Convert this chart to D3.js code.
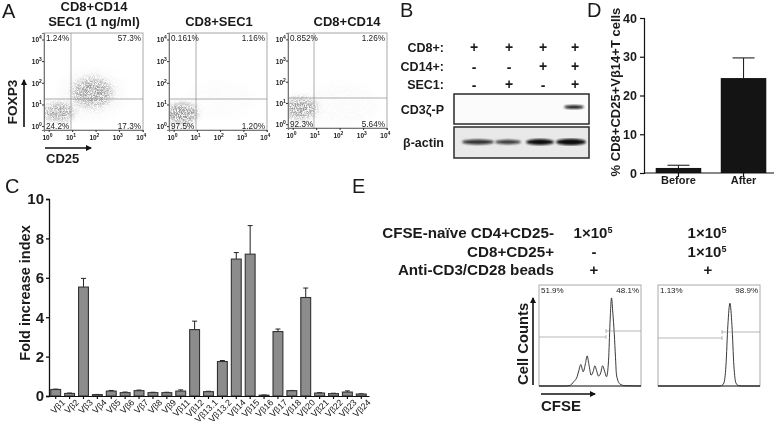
<!DOCTYPE html>
<html><head><meta charset="utf-8">
<script src="https://cdn.jsdelivr.net/npm/d3@7"></script>
<style>
html,body{margin:0;padding:0;background:#fff}
svg{display:block;filter:blur(.35px)}
text{font-family:"Liberation Sans",Arial,sans-serif;fill:#1a1a1a}
</style></head><body>
<svg id="c" width="777" height="427"></svg>
<script>
// ---------- data ----------
const vbLabels = ["Vβ1","Vβ2","Vβ3","Vβ4","Vβ5","Vβ6","Vβ7","Vβ8","Vβ9","Vβ11","Vβ12","Vβ13.1","Vβ13.2","Vβ14","Vβ15","Vβ16","Vβ17","Vβ18","Vβ20","Vβ21","Vβ22","Vβ23","Vβ24"];
const vbValues = [0.33,0.13,5.53,0.07,0.25,0.17,0.27,0.17,0.17,0.25,3.37,0.22,1.75,6.95,7.2,0.04,3.27,0.27,5.0,0.15,0.12,0.2,0.1];
const vbErrTop = [0.35,0.15,5.97,0.08,0.28,0.2,0.3,0.19,0.19,0.31,3.8,0.24,1.8,7.28,8.65,0.05,3.4,0.28,5.48,0.17,0.14,0.26,0.11];
const dCats = ["Before","After"];
const dValues = [1.3,24.5];
const dErrTop = [2.0,29.7];
const dTicks = [0,10,20,30,40];
const cTicks = [0,2,4,6,8,10];
const logTicks = [0,1,2,3,4];
const flowTitles = [["CD8+CD14","SEC1 (1 ng/ml)"],["CD8+SEC1"],["CD8+CD14"]];
const flowPercents = [["1.24%","57.3%","24.2%","17.3%"],["0.161%","1.16%","97.5%","1.20%"],["0.852%","1.26%","92.3%","5.64%"]];
// density clouds: log10 x, log10 y, radius x, radius y, strength
const flowClouds = [
 [[1.85,1.5,1.4,1.15,.07],[1.85,1.55,.85,.68,.7],[1.9,1.55,.5,.42,.5],[.4,.65,.72,.42,.75],[.4,.65,.4,.26,.35]],
 [[2,1.2,1.5,.8,.035],[.35,.58,.68,.46,.95],[.35,.58,.42,.3,.55]],
 [[2,.9,1.6,1,.05],[.33,.75,.7,.5,.8],[.33,.75,.38,.28,.5]]
];
const histPercents = [["51.9%","48.1%"],["1.13%","98.9%"]];
const hist1 = [[0,0],[26,0],[30.2,.5],[34.1,4.3],[37.4,9.2],[39,15],[41,21.3],[43.3,14.1],[45.5,22],[47.2,29.8],[49,21],[51.1,10.8],[53,14],[54.8,20],[56.5,15],[58.4,9.8],[60.5,13],[62.3,20],[64.5,14],[66.2,9.2],[68.2,25.6],[69.6,62],[71.1,87.2],[72.4,72],[73.8,51.8],[75,28],[76,10.8],[79.3,2],[84.3,.3],[100,0]];
const hist2 = [[0,0],[60,0],[62.3,.5],[64.6,3],[66.6,20],[68.5,60],[70.5,82],[72.5,60],[74.4,20],[76.4,3],[78.7,.5],[82,0],[100,0]];
const blotCols = [474,509,543,575];
const bRows = [["CD8+:","+","+","+","+"],["CD14+:","-","-","+","+"],["SEC1:","-","+","-","+"]];
const eRows = [["CFSE-naïve CD4+CD25-","1×10","1×10"],["CD8+CD25+","-","1×10"],["Anti-CD3/CD28 beads","+","+"]];
// band centre, half width, half height, darkness
const cd3Bands = [[574,10,1.8,1]];
const actinBands = [[478,16,2.4,.85],[508,13,2.2,.8],[540,14,3,1],[571,15,3.2,1]];

// ---------- helpers ----------
const svg = d3.select("#c");
const defs = svg.append("defs");
function T(g,x,y,s,o={}){
  const t=g.append("text").attr("x",x).attr("y",y).text(s)
    .attr("font-size",o.size||12).attr("font-weight",o.w||"bold")
    .attr("text-anchor",o.a||"start");
  if(o.rot!==undefined)t.attr("transform",`rotate(${o.rot},${x},${y})`);
  if(o.fill)t.style("fill",o.fill);
  return t;
}
const mk=defs.append("marker").attr("id","arr").attr("markerWidth",7).attr("markerHeight",7)
  .attr("refX",5).attr("refY",3).attr("orient","auto").attr("markerUnits","userSpaceOnUse");
mk.append("path").attr("d","M0,0L6,3L0,6Z").attr("fill","#111");
const gr=defs.append("filter").attr("id","grain").attr("x",0).attr("y",0).attr("width",1).attr("height",1);
gr.append("feGaussianBlur").attr("in","SourceGraphic").attr("stdDeviation",3).attr("result","b");
gr.append("feTurbulence").attr("type","fractalNoise").attr("baseFrequency",1.6).attr("numOctaves",2).attr("seed",4).attr("result","n");
gr.append("feColorMatrix").attr("in","n").attr("type","matrix")
  .attr("values","0 0 0 0 .25  0 0 0 0 .25  0 0 0 0 .25  2.8 0 0 0 -.85").attr("result","g");
gr.append("feComposite").attr("in","g").attr("in2","b").attr("operator","in");
const bb=defs.append("filter").attr("id","band");
bb.append("feGaussianBlur").attr("stdDeviation",.9);

// ---------- panel letters ----------
[["A",2,18],["B",400,17],["D",587,17],["C",5,193],["E",352,193]].forEach(d=>T(svg,d[1],d[2],d[0],{size:20,w:"normal"}));

// ---------- panel A ----------
const flowBoxes=[{x0:44,x1:143,y0:33,y1:130,gx:71,gy:99},{x0:169,x1:267,y0:33,y1:130,gx:196,gy:99},{x0:288,x1:387,y0:33,y1:128,gx:314,gy:98}];
const titleX=[94,219,347], titleY=[[11,26],[26],[26]];
flowBoxes.forEach((b,i)=>{
  const g=svg.append("g");
  flowTitles[i].forEach((t,k)=>T(g,titleX[i],titleY[i][k],t,{size:13,a:"middle"}));
  const x=d3.scaleLinear().domain([-.2,4.02]).range([b.x0,b.x1]);
  const y=d3.scaleLinear().domain([-.18,4.3]).range([b.y1,b.y0]);
  const id="cl"+i;
  defs.append("clipPath").attr("id",id).append("rect").attr("x",b.x0).attr("y",b.y0).attr("width",b.x1-b.x0).attr("height",b.y1-b.y0);
  const cg=g.append("g").attr("clip-path",`url(#${id})`).append("g").attr("filter","url(#grain)");
  cg.append("rect").attr("x",b.x0).attr("y",b.y0).attr("width",b.x1-b.x0).attr("height",b.y1-b.y0).attr("fill","#000").attr("opacity",.001);
  cg.selectAll("ellipse").data(flowClouds[i]).join("ellipse")
    .attr("cx",d=>x(d[0])).attr("cy",d=>y(d[1]))
    .attr("rx",d=>x(d[2])-x(0)).attr("ry",d=>y(0)-y(d[3]))
    .attr("fill","#000").attr("opacity",d=>d[4]);
  g.append("rect").attr("x",b.x0).attr("y",b.y0).attr("width",b.x1-b.x0).attr("height",b.y1-b.y0)
    .attr("fill","none").attr("stroke","#a8a8a8").attr("stroke-width",1);
  g.append("line").attr("x1",b.gx).attr("x2",b.gx).attr("y1",b.y0).attr("y2",b.y1).attr("stroke","#8a8a8a").attr("stroke-width",.7);
  g.append("line").attr("x1",b.x0).attr("x2",b.x1).attr("y1",b.gy).attr("y2",b.gy).attr("stroke","#8a8a8a").attr("stroke-width",.7);
  const ax=g.append("g").attr("transform",`translate(0,${b.y1})`).call(d3.axisBottom(x).tickValues(logTicks).tickSize(2).tickFormat(""));
  const ay=g.append("g").attr("transform",`translate(${b.x0},0)`).call(d3.axisLeft(y).tickValues(logTicks).tickSize(2).tickFormat(""));
  [ax,ay].forEach(a=>{a.selectAll("path").attr("stroke","#777");a.selectAll("line").attr("stroke","#333");});
  logTicks.forEach(t=>{
    const lx=x(t), ly=y(t);
    T(g,lx+1,b.y1+10,"10",{size:6.5,a:"end"}); T(g,lx+1,b.y1+7,String(t),{size:5});
    T(g,b.x0-5,ly+3,"10",{size:6.5,a:"end"}); T(g,b.x0-5,ly,String(t),{size:5});
  });
  const p=flowPercents[i], o={size:8.2,w:"normal"};
  T(g,b.x0+2,b.y0+8,p[0],o);
  T(g,b.x1-2,b.y0+8,p[1],{...o,a:"end"});
  T(g,b.x0+2,b.y1-1,p[2],o);
  T(g,b.x1-2,b.y1-1,p[3],{...o,a:"end"});
});
T(svg,17,102,"FOXP3",{size:13.7,a:"middle",rot:-90});
svg.append("line").attr("x1",24).attr("x2",24).attr("y1",127).attr("y2",80).attr("stroke","#111").attr("stroke-width",1.6).attr("marker-end","url(#arr)");
svg.append("line").attr("x1",45).attr("x2",91).attr("y1",148).attr("y2",148).attr("stroke","#111").attr("stroke-width",1.6).attr("marker-end","url(#arr)");
T(svg,46,163,"CD25",{size:13});

// ---------- panel B ----------
const gB=svg.append("g");
bRows.forEach((r,i)=>{
  const yy=[52,71,89][i];
  T(gB,444,yy,r[0],{size:12.5,a:"end"});
  blotCols.forEach((c,k)=>T(gB,c,yy+(r[k+1]==="-"?1:0),r[k+1],{size:14,a:"middle"}));
});
const blots=[{y0:94,y1:124,bands:cd3Bands,cy:107,label:"CD3ζ-P",ly:114},{y0:127,y1:158,bands:actinBands,cy:142,label:"β-actin",ly:147}];
blots.forEach(b=>{
  gB.append("rect").attr("x",454).attr("y",b.y0).attr("width",135).attr("height",b.y1-b.y0)
    .attr("fill",b.y0<100?"#fbfbfb":"#e9e9e9").attr("stroke","#2a2a2a").attr("stroke-width",1.5);
  gB.append("g").attr("filter","url(#band)").selectAll("ellipse").data(b.bands).join("ellipse")
    .attr("cx",d=>d[0]).attr("cy",b.cy).attr("rx",d=>d[1]).attr("ry",d=>d[2])
    .attr("fill","#111").attr("opacity",d=>d[3]);
  T(gB,444,b.ly,b.label,{size:12.5,a:"end"});
});

// ---------- panel C ----------
const gC=svg.append("g");
const cx=d3.scaleBand().domain(vbLabels).range([48,369]).paddingInner(.29).paddingOuter(.2);
const cy=d3.scaleLinear().domain([0,10]).range([396,199]);
gC.selectAll("line.err").data(vbLabels).join("line").attr("class","err")
  .attr("x1",d=>cx(d)+cx.bandwidth()/2).attr("x2",d=>cx(d)+cx.bandwidth()/2)
  .attr("y1",(d,i)=>cy(vbValues[i])).attr("y2",(d,i)=>cy(vbErrTop[i])).attr("stroke","#222").attr("stroke-width",1);
gC.selectAll("line.cap").data(vbLabels).join("line").attr("class","cap")
  .attr("x1",d=>cx(d)+cx.bandwidth()/2-2.5).attr("x2",d=>cx(d)+cx.bandwidth()/2+2.5)
  .attr("y1",(d,i)=>cy(vbErrTop[i])).attr("y2",(d,i)=>cy(vbErrTop[i])).attr("stroke","#222").attr("stroke-width",1);
gC.selectAll("rect").data(vbLabels).join("rect")
  .attr("x",d=>cx(d)).attr("width",cx.bandwidth())
  .attr("y",(d,i)=>cy(vbValues[i])).attr("height",(d,i)=>396-cy(vbValues[i]))
  .attr("fill","#8c8c8c").attr("stroke","#333").attr("stroke-width",1.1);
const axC=gC.append("g").attr("transform","translate(49,0)").call(d3.axisLeft(cy).tickValues(cTicks).tickSize(3));
axC.selectAll("path,line").attr("stroke","#111").attr("stroke-width",1.3);
axC.selectAll("text").attr("font-size",15).attr("font-weight","bold").attr("dx",1).style("font-family",'"Liberation Sans"');
const axCb=gC.append("g").attr("transform","translate(0,396)").call(d3.axisBottom(cx).tickSize(3).tickSizeOuter(0));
axCb.selectAll("path,line").attr("stroke","#111").attr("stroke-width",1.2);
axCb.selectAll("text").attr("font-size",8.8).attr("font-weight","normal").attr("text-anchor","end")
  .attr("dx",2).attr("dy",6).attr("transform","rotate(-45)").style("font-family",'"Liberation Sans"').style("fill","#111");
T(gC,30,293,"Fold increase index",{size:14.5,a:"middle",rot:-90});

// ---------- panel D ----------
const gD=svg.append("g");
const dx=d3.scaleBand().domain(dCats).range([644,778]).paddingInner(.3).paddingOuter(.18);
const dy=d3.scaleLinear().domain([0,40]).range([173,18]);
gD.selectAll("line.err").data(dCats).join("line").attr("class","err")
  .attr("x1",d=>dx(d)+dx.bandwidth()/2).attr("x2",d=>dx(d)+dx.bandwidth()/2)
  .attr("y1",(d,i)=>dy(dValues[i])).attr("y2",(d,i)=>dy(dErrTop[i])).attr("stroke","#222").attr("stroke-width",1.1);
gD.selectAll("line.cap").data(dCats).join("line").attr("class","cap")
  .attr("x1",d=>dx(d)+dx.bandwidth()/2-11).attr("x2",d=>dx(d)+dx.bandwidth()/2+11)
  .attr("y1",(d,i)=>dy(dErrTop[i])).attr("y2",(d,i)=>dy(dErrTop[i])).attr("stroke","#222").attr("stroke-width",1.1);
gD.selectAll("rect").data(dCats).join("rect")
  .attr("x",d=>dx(d)).attr("width",dx.bandwidth())
  .attr("y",(d,i)=>dy(dValues[i])).attr("height",(d,i)=>173-dy(dValues[i])).attr("fill","#141414");
const axD=gD.append("g").attr("transform","translate(644,0)").call(d3.axisLeft(dy).tickValues(dTicks).tickSize(4));
axD.selectAll("path,line").attr("stroke","#111").attr("stroke-width",1.2);
axD.selectAll("text").attr("font-size",12.5).attr("font-weight","bold").style("font-family",'"Liberation Sans"');
const axDb=gD.append("g").attr("transform","translate(0,173)").call(d3.axisBottom(dx).tickSize(4).tickSizeOuter(0));
axDb.selectAll("path,line").attr("stroke","#111").attr("stroke-width",1.2);
axDb.select(".domain").attr("d","M644,0H774");
axDb.selectAll("text").attr("font-size",11).attr("font-weight","bold").attr("dy",4).style("font-family",'"Liberation Sans"');
T(gD,620,92,"% CD8+CD25+Vβ14+T cells",{size:13,a:"middle",rot:-90});

// ---------- panel E ----------
const gE=svg.append("g");
eRows.forEach((r,i)=>{
  const yy=[238,257,275][i];
  T(gE,554,yy,r[0],{size:15.2,a:"end"});
  [594,708].forEach((c,k)=>{
    const s=r[k+1];
    if(s==="1×10"){
      const t=T(gE,c-1,yy,s,{size:15,a:"middle"});
      t.append("tspan").text("5").attr("font-size",9).attr("dy",-5);
    } else T(gE,c,yy,s,{size:15,a:"middle"});
  });
});
const histBoxes=[{x0:539,x1:641,data:hist1,g:[337,331,606],p:histPercents[0]},{x0:658,x1:760,data:hist2,g:[338,332,722],p:histPercents[1]}];
histBoxes.forEach(b=>{
  const x=d3.scaleLinear().domain([0,100]).range([b.x0,b.x1]);
  const y=d3.scaleLinear().domain([0,100]).range([386,285]);
  gE.append("rect").attr("x",b.x0).attr("y",285).attr("width",b.x1-b.x0).attr("height",101).attr("fill","none").attr("stroke","#aaa");
  gE.append("line").attr("x1",b.x0).attr("x2",b.x1).attr("y1",386).attr("y2",386).attr("stroke","#333").attr("stroke-width",1.2);
  gE.append("path").attr("d",d3.line().x(d=>x(d[0])).y(d=>y(d[1])).curve(d3.curveMonotoneX)(b.data))
    .attr("fill","none").attr("stroke","#222").attr("stroke-width",.9);
  const [l,r,m]=b.g;
  gE.append("path").attr("d",`M${b.x0},${l}H${m}M${m},${l-2}V${l+2}M${m},${r-2}V${r+2}M${m},${r}H${b.x1}`).attr("fill","none").attr("stroke","#999").attr("stroke-width",.7);
  T(gE,b.x0+2,293,b.p[0],{size:8,w:"normal"});
  T(gE,b.x1-2,293,b.p[1],{size:8,w:"normal",a:"end"});
});
T(gE,528,385,"Cell Counts",{size:14.8,rot:-90});
svg.append("line").attr("x1",533).attr("x2",533).attr("y1",385).attr("y2",298).attr("stroke","#111").attr("stroke-width",1.6).attr("marker-end","url(#arr)");
svg.append("line").attr("x1",541).attr("x2",595).attr("y1",394).attr("y2",394).attr("stroke","#111").attr("stroke-width",1.6).attr("marker-end","url(#arr)");
T(gE,541,411,"CFSE",{size:15});
</script></body></html>
